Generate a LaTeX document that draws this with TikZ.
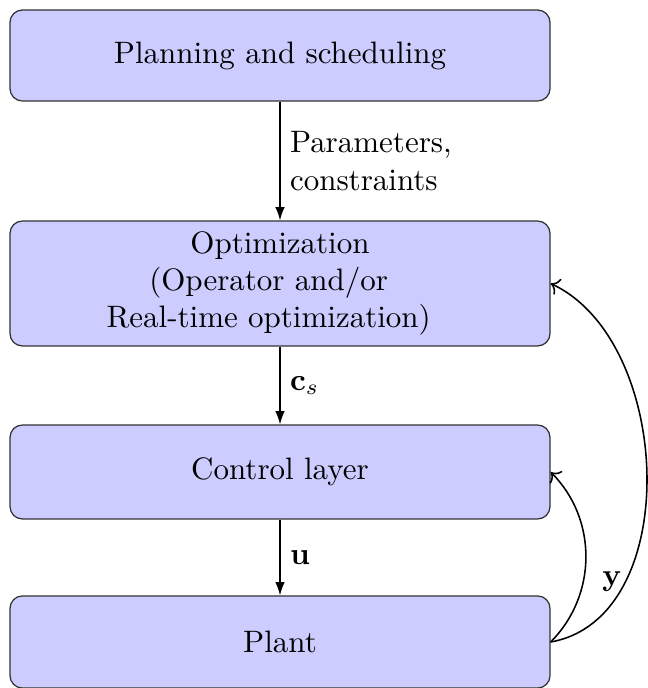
\documentclass[tikz,border=0pt]{standalone}
\usetikzlibrary{arrows.meta}
\begin{document}
\begin{tikzpicture}[x=0.32258pt,y=0.32258pt,
  blk/.style={draw=black!80,fill=blue!20,rounded corners=4pt,line width=0.4pt,
    minimum width=174.2pt,inner sep=0pt,align=center},
  flow/.style={-{Latex[length=4.3pt,width=3.1pt]},line width=0.45pt},
  fb/.style={->,line width=0.5pt}]
\useasboundingbox (0,0) rectangle (648,688);
\node[blk,minimum height=29.35pt] (plan) at (280,632.5) {Planning and scheduling};
\node[blk,minimum height=40.3pt] (opt) at (280,404.5) {Optimization\\(Operator and/or\hspace*{7.3pt}\mbox{}\\Real-time optimization)\hspace*{7.3pt}\mbox{}};
\node[blk,minimum height=30.3pt] (ctrl) at (280,216) {Control layer};
\node[blk,minimum height=29.7pt] (plant) at (280,46) {Plant};
\draw[flow] (plan) -- node[right,align=left,inner sep=3pt] {Parameters,\\constraints} (opt);
\draw[flow] (opt) -- node[right,inner sep=3pt] {$\mathbf{c}_s$} (ctrl);
\draw[flow] (ctrl) -- node[right,inner sep=3pt] {$\mathbf{u}$} (plant);
\draw[fb] (plant.east) to[out=45,in=-45] (ctrl.east);
\draw[fb] (plant.east) to[out=10,in=-25,looseness=0.97] (opt.east);
\node (ylab) at (612,106) {$\mathbf{y}$};
\end{tikzpicture}
\end{document}
